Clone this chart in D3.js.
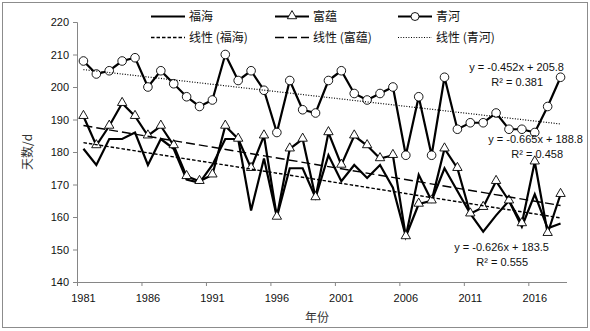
<!DOCTYPE html>
<html><head><meta charset="utf-8">
<script src="https://cdn.jsdelivr.net/npm/d3@7"></script>
<style>
body{margin:0;background:#fff;}
text{font-family:"Liberation Sans",Arial,sans-serif;}
.cjk{font-family:"Noto Sans CJK SC","Liberation Sans",sans-serif;}
</style></head>
<body><svg id="c" width="590" height="331"></svg>
<script>
const years = d3.range(1981, 2019);
const fuhai = [181,176,184,184,186,176,184,181,171.5,170.5,176,184,184,162,178,160,175,175,166,179,171,176,172,176,169,154,173,165,175,168,161,155.5,160.5,165,157,167,156.5,158];
const fuyun = [191,182,188,195,191,185,188,182,172.5,171,173,188,184,175,185,160,181,184,166,186,176,185,182,178,179,154,164,165,181,175,161,163,171,165,158,177,155,167];
const qinghe = [208,204,205,208,209,200,205,201,197,194,196,210,202,205,199,186,202,193,192,202,205,198,196,198,200,179,197,179,203,187,189,189,192,187,187,186,194,203];
const seriesNames = ["福海","富蕴","青河"];
const trendSlopes = [-0.626, -0.665, -0.452];
const trendIntercepts = [183.5, 188.8, 205.8];
const trendR2 = ["0.555","0.458","0.381"];
const yTicks = [140,150,160,170,180,190,200,210,220];
const xLabelYears = [1981,1986,1991,1996,2001,2006,2011,2016];

const svg = d3.select("#c");
const L = 77, R = 567, T = 22, B = 282;
svg.append("rect").attr("x",2.5).attr("y",2.5).attr("width",585).attr("height",325)
  .attr("fill","#fff").attr("stroke","#8c8c8c").attr("stroke-width",1);

const x = d3.scaleBand().domain(years).range([L,R]).paddingInner(0).paddingOuter(0);
const xc = d => x(d) + x.bandwidth()/2;
const xi = d3.scaleLinear().domain([0, years.length]).range([L,R]);
const y = d3.scaleLinear().domain([140,220]).range([B,T]);

// Y axis
const ya = svg.append("g").attr("transform",`translate(${L},0)`)
  .call(d3.axisLeft(y).tickValues(yTicks).tickSize(4).tickPadding(4));
ya.select(".domain").attr("stroke","#868686");
ya.selectAll(".tick line").attr("stroke","#868686");
ya.selectAll("text").attr("font-size",11).attr("fill","#111");

// X axis tick marks at band boundaries
const xt = svg.append("g").attr("transform",`translate(0,${B})`)
  .call(d3.axisBottom(xi).tickValues(d3.range(0, years.length+1, 5)).tickSize(4).tickFormat(""));
xt.select(".domain").remove();
xt.selectAll(".tick line").attr("stroke","#868686");
const xa = svg.append("g").attr("transform",`translate(0,${B})`)
  .call(d3.axisBottom(x).tickValues(xLabelYears).tickSize(0).tickPadding(12));
xa.select(".domain").attr("stroke","#868686").attr("d",`M${L},0.5H${R}`);
xa.selectAll("text").attr("font-size",11).attr("fill","#111");

// axis titles
svg.append("text").attr("class","cjk").attr("x",(L+R)/2 - 5).attr("y",322)
  .attr("text-anchor","middle").attr("font-size",12).attr("fill","#333").text("年份");
svg.append("text").attr("class","cjk").attr("transform","translate(32,152) rotate(-90)")
  .attr("text-anchor","middle").attr("font-size",12).attr("fill","#333").text("天数/d");

const data = [fuhai, fuyun, qinghe];
const line = d3.line().x((d,i)=>xc(years[i])).y(d=>y(d));

data.forEach((s,k)=>{
  svg.append("path").datum(s).attr("d",line).attr("fill","none")
    .attr("stroke","#000").attr("stroke-width",2.2).attr("stroke-linejoin","miter");
});
// markers
const tri = d3.symbol().type(d3.symbolTriangle).size(38);
svg.append("g").selectAll("path").data(fuyun).join("path")
  .attr("d",tri).attr("transform",(d,i)=>`translate(${xc(years[i])},${y(d)-0.5})`)
  .attr("fill","#fff").attr("stroke","#000").attr("stroke-width",0.9);
svg.append("g").selectAll("circle").data(qinghe).join("circle")
  .attr("cx",(d,i)=>xc(years[i])).attr("cy",d=>y(d)).attr("r",4.3)
  .attr("fill","#fff").attr("stroke","#000").attr("stroke-width",0.9);

// trend lines
const dashes = ["3.5,2","9,4","1,1.6"];
const widths = [1.4,1.4,1.2];
trendSlopes.forEach((a,k)=>{
  const b = trendIntercepts[k];
  const pts = [1, years.length].map(n=>[xc(years[n-1]), y(a*n+b)]);
  svg.append("path").attr("d",d3.line()(pts)).attr("fill","none")
    .attr("stroke","#000").attr("stroke-width",widths[k]).attr("stroke-dasharray",dashes[k]);
});

// equation labels
const fmt = (a,b)=>`y = ${a.toFixed(3)}x + ${b.toFixed(1)}`;
const eqPos = [[549,251,528,266],[583,143,563,158],[564,71,543,86]];
trendSlopes.forEach((a,k)=>{
  const p = eqPos[k];
  svg.append("text").attr("x",p[0]).attr("y",p[1]).attr("text-anchor","end")
    .attr("font-size",11).attr("fill","#111").text(fmt(a,trendIntercepts[k]));
  svg.append("text").attr("x",p[2]).attr("y",p[3]).attr("text-anchor","end")
    .attr("font-size",11).attr("fill","#111").text(`R² = ${trendR2[k]}`);
});

// legend
const cols = [151,275,398];
const lg = svg.append("g");
seriesNames.forEach((n,k)=>{
  const x0 = cols[k], x1 = cols[k] + 34;
  lg.append("line").attr("x1",x0).attr("x2",x1).attr("y1",16.5).attr("y2",16.5)
    .attr("stroke","#000").attr("stroke-width",2);
  if(k===1) lg.append("path").attr("d",tri).attr("transform",`translate(${(x0+x1)/2},16)`)
    .attr("fill","#fff").attr("stroke","#000").attr("stroke-width",0.9);
  if(k===2) lg.append("circle").attr("cx",(x0+x1)/2).attr("cy",16.5).attr("r",4)
    .attr("fill","#fff").attr("stroke","#000").attr("stroke-width",0.9);
  lg.append("text").attr("class","cjk").attr("x",x1+4).attr("y",21).attr("font-size",12)
    .attr("fill","#111").text(n);
  lg.append("line").attr("x1",x0).attr("x2",x1).attr("y1",37.5).attr("y2",37.5)
    .attr("stroke","#000").attr("stroke-width",widths[k]).attr("stroke-dasharray",dashes[k]);
  lg.append("text").attr("class","cjk").attr("x",x1+4).attr("y",42).attr("font-size",12)
    .attr("fill","#111").text(`线性 (${n})`);
});
</script></body></html>
